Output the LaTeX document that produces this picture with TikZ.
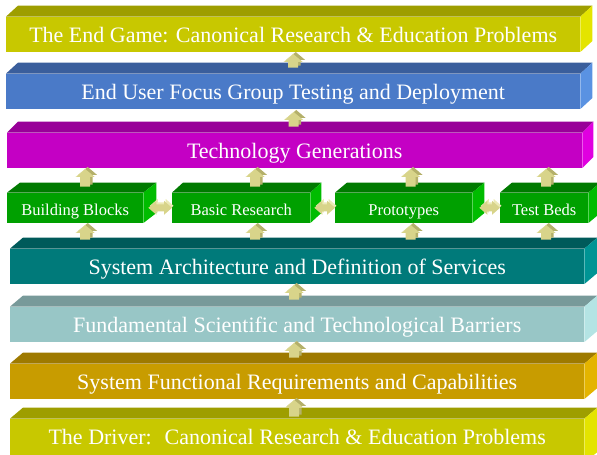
\documentclass[tikz,border=0pt]{standalone}
\usepackage{fontspec}
\setmainfont{Liberation Serif}
\usetikzlibrary{calc}
\definecolor{olivefront}{HTML}{C8C800}
\definecolor{olivetop}{HTML}{9E9E00}
\definecolor{oliveside}{HTML}{E4E400}
\definecolor{bluefront}{HTML}{4A7AC8}
\definecolor{bluetop}{HTML}{3A5E9C}
\definecolor{blueside}{HTML}{5A92E2}
\definecolor{magfront}{HTML}{C400C4}
\definecolor{magtop}{HTML}{980098}
\definecolor{magside}{HTML}{E000E0}
\definecolor{greenfront}{HTML}{00A000}
\definecolor{greentop}{HTML}{007A00}
\definecolor{greenside}{HTML}{00BC00}
\definecolor{tealfront}{HTML}{007A7A}
\definecolor{tealtop}{HTML}{005A5A}
\definecolor{tealside}{HTML}{009494}
\definecolor{icefront}{HTML}{98C6C6}
\definecolor{icetop}{HTML}{789A9A}
\definecolor{iceside}{HTML}{B4E4E4}
\definecolor{ochrefront}{HTML}{C89C00}
\definecolor{ochretop}{HTML}{9E7A00}
\definecolor{ochreside}{HTML}{E4B400}
\definecolor{arrowfront}{HTML}{D8D48A}
\definecolor{arrowside}{HTML}{B4B06A}
\definecolor{arrowtop}{HTML}{ECEAB6}
\tikzset{
    slab/.style={anchor=south west, inner sep=0pt, minimum width=574pt, minimum height=35pt,
        text height=17pt, text depth=0pt, text=white, font=\fontsize{22}{26}\selectfont},
    brick/.style={anchor=south west, inner sep=0pt, minimum height=30pt,
        text height=16pt, text depth=0pt, text=white, font=\fontsize{16.5}{20}\selectfont}
}
\newcommand{\faces}[5]{%
    \fill[#4] (#1.north west) -- ++(#2,#3) -- ($(#1.north east)+(#2,#3)$) -- (#1.north east) -- cycle;
    \fill[#5] (#1.north east) -- ++(#2,#3) -- ($(#1.south east)+(#2,#3)$) -- (#1.south east) -- cycle;
}
\newcommand{\liftpath}[2]{($(lo)+(-5+#1,#2)$) -- ($(lo)+(5+#1,#2)$) -- ($(lo |- hi)+(5+#1,-8+#2)$)
    -- ($(lo |- hi)+(9.5+#1,-8+#2)$) -- ($(lo |- hi)+(#1,#2)$) -- ($(lo |- hi)+(-9.5+#1,-8+#2)$)
    -- ($(lo |- hi)+(-5+#1,-8+#2)$) -- cycle}
\newcommand{\liftarrow}[2]{%
    \coordinate (lo) at #1;
    \coordinate (hi) at #2;
    \fill[arrowside] \liftpath{2.5}{2};
    \fill[arrowfront] \liftpath{0}{0};
    \fill[arrowtop] ($(lo |- hi)+(-9.5,-8)$) -- (lo |- hi) -- ($(lo |- hi)+(2.5,2)$) -- ($(lo |- hi)+(-7,-6)$) -- cycle;
}
\newcommand{\sidepath}[2]{($(le)+(#1,#2)$) -- ($(le)+(8+#1,7+#2)$) -- ($(le)+(8+#1,3.5+#2)$)
    -- ($(ri |- le)+(-8+#1,3.5+#2)$) -- ($(ri |- le)+(-8+#1,7+#2)$) -- ($(ri |- le)+(#1,#2)$)
    -- ($(ri |- le)+(-8+#1,-7+#2)$) -- ($(ri |- le)+(-8+#1,-3.5+#2)$) -- ($(le)+(8+#1,-3.5+#2)$)
    -- ($(le)+(8+#1,-7+#2)$) -- cycle}
\newcommand{\sidearrow}[2]{%
    \coordinate (le) at #1;
    \coordinate (ri) at #2;
    \fill[arrowtop] \sidepath{1.5}{2};
    \fill[arrowfront] \sidepath{0}{0};
}
\begin{document}
\begin{tikzpicture}[x=1pt,y=1pt]
                \useasboundingbox (0,0) rectangle (597,455);
                \clip (0,0) rectangle (597,455);
                \node[slab, fill=olivefront] (endgame) at (6,403) {The End Game: Canonical Research \& Education Problems};
                \faces{endgame}{12}{11}{olivetop}{oliveside}
                \node[slab, fill=bluefront] (user) at (6,346) {End User Focus Group Testing and Deployment};
                \faces{user}{12}{11}{bluetop}{blueside}
                \node[slab, fill=magfront, minimum width=575pt] (tech) at (7,287) {Technology Generations};
                \faces{tech}{11}{11}{magtop}{magside}
                \node[brick, fill=greenfront, minimum width=136pt] (blocks) at (7,232) {Building Blocks};
                \faces{blocks}{13}{10}{greentop}{greenside}
                \node[brick, fill=greenfront, minimum width=138pt] (basic) at (172,232) {Basic Research};
                \faces{basic}{11}{10}{greentop}{greenside}
                \node[brick, fill=greenfront, minimum width=137pt] (proto) at (335,232) {Prototypes};
                \faces{proto}{12}{10}{greentop}{greenside}
                \node[brick, fill=greenfront, minimum width=88pt] (beds) at (500,232) {Test Beds};
                \faces{beds}{12}{10}{greentop}{greenside}
                \node[slab, fill=tealfront] (arch) at (10,171) {System Architecture and Definition of Services};
                \faces{arch}{13}{11}{tealtop}{tealside}
                \node[slab, fill=icefront] (barriers) at (10,113) {Fundamental Scientific and Technological Barriers};
                \faces{barriers}{13}{11}{icetop}{iceside}
                \node[slab, fill=ochrefront] (reqs) at (10,56) {System Functional Requirements and Capabilities};
                \faces{reqs}{13}{11}{ochretop}{ochreside}
                \node[slab, fill=olivefront, minimum height=44pt, text height=8pt] (driver) at (10,-8) {The Driver:~ Canonical Research \& Education Problems};
                \faces{driver}{13}{11}{olivetop}{oliveside}
                \liftarrow{($(user.north)+(0,6)$)}{($(endgame.south)+(0,-2)$)}
                \liftarrow{($(tech.north)+(-1,6)$)}{($(user.south)+(0,-3)$)}
                \liftarrow{($(blocks.north)+(10,6)$)}{($(blocks.north |- tech.south)+(10,-1)$)}
                \liftarrow{($(basic.north)+(14,6)$)}{($(basic.north |- tech.south)+(14,-1)$)}
                \liftarrow{($(proto.north)+(7,6)$)}{($(proto.north |- tech.south)+(7,-1)$)}
                \liftarrow{($(beds.north)+(2,6)$)}{($(beds.north |- tech.south)+(2,-1)$)}
                \liftarrow{($(blocks.south |- arch.north)+(10,9)$)}{($(blocks.south)+(10,-2)$)}
                \liftarrow{($(basic.south |- arch.north)+(14,9)$)}{($(basic.south)+(14,-2)$)}
                \liftarrow{($(proto.south |- arch.north)+(7,9)$)}{($(proto.south)+(7,-2)$)}
                \liftarrow{($(beds.south |- arch.north)+(2,9)$)}{($(beds.south)+(2,-2)$)}
                \liftarrow{($(barriers.north)+(-3,7)$)}{($(arch.south)+(-3,-1)$)}
                \liftarrow{($(reqs.north)+(-3,6)$)}{($(barriers.south)+(-3,-1)$)}
                \liftarrow{($(driver.north)+(-3,2)$)}{($(reqs.south)+(-3,-1)$)}
                \sidearrow{($(blocks.east)+(5,0)$)}{(basic.west)}
                \sidearrow{($(basic.east)+(4,0)$)}{(proto.west)}
                \sidearrow{($(proto.east)+(7,0)$)}{(beds.west)}
\end{tikzpicture}
\end{document}
